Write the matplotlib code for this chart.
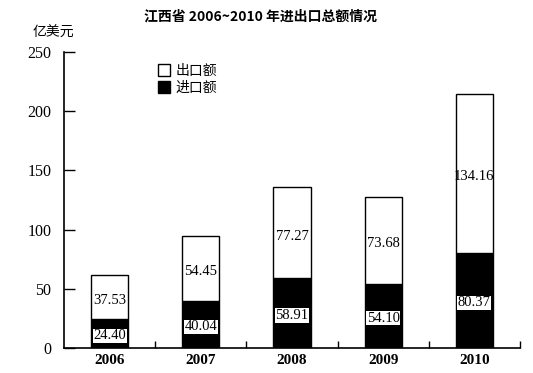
import matplotlib
matplotlib.use("Agg")
import matplotlib.pyplot as plt
import numpy as np

years = ["2006", "2007", "2008", "2009", "2010"]
imports = [24.40, 40.04, 58.91, 54.10, 80.37]
exports = [37.53, 54.45, 77.27, 73.68, 134.16]
yticks = [0, 50, 100, 150, 200, 250]

plt.rcParams['font.family'] = ['Liberation Serif', 'Noto Sans CJK SC']

fig = plt.figure(figsize=(5.33, 3.73), dpi=100)
ax = fig.add_axes([64/533, 1-348/373, (520-64)/533, (348-52)/373])

x = np.arange(len(years))
w = 0.41
ax.bar(x, imports, w, color='black', edgecolor='black', linewidth=1, label='进口额')
ax.bar(x, exports, w, bottom=imports, color='white', edgecolor='black', linewidth=1, label='出口额')

for xi, imp, exp in zip(x, imports, exports):
    ax.text(xi, imp/2 - 2, f"{imp:.2f}", ha='center', va='center', fontsize=10.5,
            color='black', bbox=dict(facecolor='white', edgecolor='none', pad=0.4))
    ax.text(xi, imp + exp/2 - 3, f"{exp:.2f}", ha='center', va='center', fontsize=10.5,
            color='black')

ax.set_xlim(-0.5, len(years) - 0.5)
ax.set_ylim(0, 250)
ax.set_yticks(yticks)
ax.set_yticklabels([str(v) for v in yticks], fontsize=11.5)
ax.set_xticks(x)
ax.set_xticklabels(years, fontsize=11, fontweight='semibold')
ax.tick_params(axis='x', length=0, pad=4)
ax.set_xticks(np.arange(len(years)) + 0.5, minor=True)
ax.tick_params(axis='x', which='minor', direction='in', length=5, width=1)
ax.tick_params(axis='y', direction='in', length=8, width=1, pad=9)

for s in ['top', 'right']:
    ax.spines[s].set_visible(False)
ax.spines['left'].set_linewidth(1.2)
ax.spines['bottom'].set_linewidth(1.2)

fig.text(261/533, 1-16/373, "江西省 2006~2010 年进出口总额情况", ha='center', va='center',
         fontsize=10, fontweight='bold', family=['Noto Sans CJK SC', 'DejaVu Sans'])
fig.text(33/533, 1-33/373, "亿美元", ha='left', va='center', fontsize=10,
         family=['Noto Sans CJK SC', 'DejaVu Sans'])

handles, labels = ax.get_legend_handles_labels()
leg = ax.legend(handles[::-1], labels[::-1], loc='upper left',
                bbox_to_anchor=((152-64)/456, 1-(58-52)/296), frameon=False,
                prop={'family': 'Noto Sans CJK SC', 'size': 10},
                handlelength=0.9, handleheight=0.9, handletextpad=0.4,
                labelspacing=0.25, borderaxespad=0)

fig.savefig("out.png", dpi=100)
